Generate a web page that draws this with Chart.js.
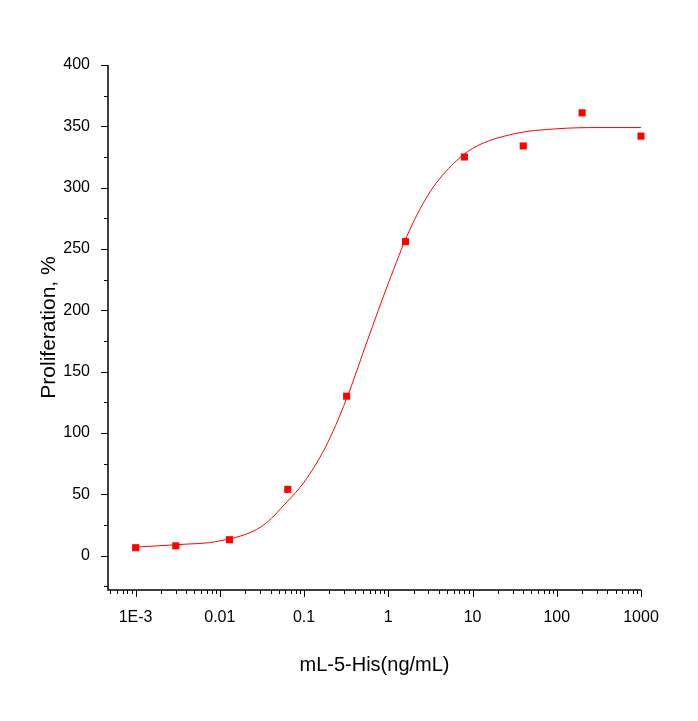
<!DOCTYPE html>
<html>
<head>
<meta charset="utf-8">
<script src="https://cdn.jsdelivr.net/npm/chart.js@4"></script>
<style>
  html, body { margin: 0; padding: 0; background: #fff; }
  #wrap { width: 698px; height: 721px; }
</style>
</head>
<body>
<div id="wrap"><canvas id="chart" width="698" height="721"></canvas></div>
<script>
// measured points
const doseX = [0.001, 0.003, 0.013, 0.064, 0.32, 1.6, 8, 40, 200, 1000];
const proliferation = [6.5, 8, 13, 54, 130, 256, 325, 334, 361, 342];

// fitted curve
const fitX = [0.001, 0.00316, 0.01, 0.0316, 0.063, 0.1, 0.178, 0.316, 0.562, 1, 1.78, 3.16, 5.62, 10, 31.6, 100, 316, 1000];
const fitY = [7, 9, 12, 24, 44, 60, 88, 127, 175, 222, 265, 297, 318, 332, 344, 348, 349, 349];

const xTickLabels = { '0.001': '1E-3', '0.01': '0.01', '0.1': '0.1', '1': '1', '10': '10', '100': '100', '1000': '1000' };
const yTicks = [0, 50, 100, 150, 200, 250, 300, 350, 400];

const font = "'Liberation Sans', Arial, sans-serif";

// outward tick marks, majors and minors, like the original plot
const tickMarks = {
  id: 'tickMarks',
  beforeDatasetsDraw(chart) {
    const { ctx, chartArea: a, scales: { x, y } } = chart;
    ctx.save();
    ctx.strokeStyle = '#000';
    ctx.lineWidth = 1.5;
    ctx.beginPath();
    ctx.moveTo(a.left, a.top); ctx.lineTo(a.left, a.bottom); ctx.lineTo(a.right, a.bottom);
    ctx.stroke();
    ctx.lineWidth = 1;
    ctx.beginPath();
    for (let e = -4; e <= 3; e += 1) {
      for (let m = 1; m <= 9; m += 1) {
        const v = m * Math.pow(10, e);
        if (v < x.min || v > x.max * 1.0001) continue;
        const px = Math.round(x.getPixelForValue(v)) + 0.5;
        ctx.moveTo(px, a.bottom); ctx.lineTo(px, a.bottom + (m === 1 ? 7 : 4));
      }
    }
    for (let v = -25; v <= 400; v += 25) {
      const py = Math.round(y.getPixelForValue(v)) + 0.5;
      ctx.moveTo(a.left, py); ctx.lineTo(a.left - (v % 50 === 0 ? 7 : 4), py);
    }
    ctx.stroke();
    ctx.restore();
  }
};

new Chart(document.getElementById('chart'), {
  type: 'scatter',
  data: {
    datasets: [
      {
        type: 'line',
        data: fitX.map((v, i) => ({ x: v, y: fitY[i] })),
        borderColor: '#ff0000',
        borderWidth: 1,
        pointRadius: 0,
        cubicInterpolationMode: 'monotone',
        clip: false
      },
      {
        data: doseX.map((v, i) => ({ x: v, y: proliferation[i] })),
        backgroundColor: '#ff0000',
        borderColor: '#ff0000',
        pointStyle: 'rect',
        pointRadius: 5,
        borderWidth: 0,
        clip: false
      }
    ]
  },
  options: {
    responsive: false,
    animation: false,
    layout: { padding: { top: 65, right: 57, left: 33, bottom: 40 } },
    plugins: { legend: { display: false }, tooltip: { enabled: false } },
    scales: {
      x: {
        type: 'logarithmic',
        min: 0.00047,
        max: 1000,
        border: { display: false },
        grid: { display: false },
        afterBuildTicks(scale) {
          scale.ticks = Object.keys(xTickLabels).map((v) => ({ value: Number(v), major: true }));
        },
        afterFit(scale) { scale.height = 91; },
        ticks: {
          color: '#000',
          font: { family: font, size: 16 },
          padding: 10,
          maxRotation: 0,
          autoSkip: false,
          callback: (v) => xTickLabels[String(v)] || ''
        },
        title: { display: true, text: 'mL-5-His(ng/mL)', color: '#000', font: { family: font, size: 20 }, padding: { top: 14 } }
      },
      y: {
        min: -28,
        max: 400,
        border: { display: false },
        grid: { display: false },
        afterBuildTicks(scale) {
          scale.ticks = yTicks.map((v) => ({ value: v }));
        },
        afterFit(scale) { scale.width = 75; },
        ticks: { color: '#000', font: { family: font, size: 16 }, padding: 10 },
        title: { display: true, text: 'Proliferation, %', color: '#000', font: { family: font, size: 21 }, padding: { bottom: 2 } }
      }
    }
  },
  plugins: [tickMarks]
});
</script>
</body>
</html>
